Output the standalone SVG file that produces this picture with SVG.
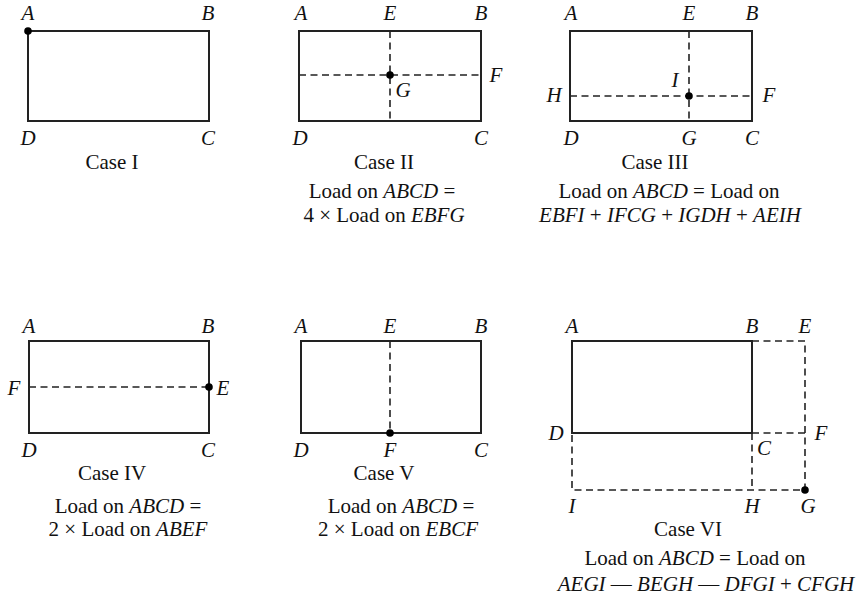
<svg xmlns="http://www.w3.org/2000/svg" width="860" height="596" viewBox="0 0 860 596">
<style>
text{font-family:"Liberation Serif","Times New Roman",serif;font-size:21px;fill:#111;text-anchor:middle}
.l{font-style:italic}
.i{font-style:italic}
.s{fill:none;stroke:#222;stroke-width:2}
.d{fill:none;stroke:#222;stroke-width:1.6;stroke-dasharray:7 4.5}
.p{fill:#000}
</style>
<rect width="860" height="596" fill="#fff"/>
<g id="case1">
<rect class="s" x="28" y="31" width="181" height="90"/>
<circle class="p" cx="28" cy="31" r="3.8"/>
<text class="l" x="28" y="20">A</text><text class="l" x="208" y="20">B</text>
<text class="l" x="28" y="145">D</text><text class="l" x="208" y="145">C</text>
<text x="112" y="169">Case I</text>
</g>
<g id="case2">
<line class="d" x1="390" y1="31" x2="390" y2="121"/>
<line class="d" x1="299" y1="75" x2="481" y2="75"/>
<rect class="s" x="299" y="31" width="182" height="90"/>
<circle class="p" cx="390" cy="75" r="3.8"/>
<text class="l" x="301" y="20">A</text><text class="l" x="390" y="20">E</text><text class="l" x="481" y="20">B</text>
<text class="l" x="496" y="82">F</text><text class="l" x="403" y="97">G</text>
<text class="l" x="300" y="145">D</text><text class="l" x="481" y="145">C</text>
<text x="384" y="169">Case II</text>
<text x="382" y="198">Load on <tspan class="i">ABCD</tspan> =</text>
<text x="384" y="222">4 × Load on <tspan class="i">EBFG</tspan></text>
</g>
<g id="case3">
<line class="d" x1="689" y1="31" x2="689" y2="121"/>
<line class="d" x1="570" y1="96" x2="752" y2="96"/>
<rect class="s" x="570" y="31" width="182" height="90"/>
<circle class="p" cx="689" cy="96" r="3.8"/>
<text class="l" x="571" y="20">A</text><text class="l" x="689" y="20">E</text><text class="l" x="752" y="20">B</text>
<text class="l" x="554" y="102">H</text><text class="l" x="675" y="87">I</text><text class="l" x="769" y="102">F</text>
<text class="l" x="571" y="145">D</text><text class="l" x="689" y="145">G</text><text class="l" x="752" y="145">C</text>
<text x="655" y="169">Case III</text>
<text x="669" y="198">Load on <tspan class="i">ABCD</tspan> = Load on</text>
<text x="670" y="222"><tspan class="i">EBFI</tspan> + <tspan class="i">IFCG</tspan> + <tspan class="i">IGDH</tspan> + <tspan class="i">AEIH</tspan></text>
</g>
<g id="case4">
<line class="d" x1="29" y1="387" x2="209" y2="387"/>
<rect class="s" x="29" y="341" width="180" height="92"/>
<circle class="p" cx="209" cy="387" r="3.8"/>
<text class="l" x="29" y="333">A</text><text class="l" x="208" y="333">B</text>
<text class="l" x="14" y="395">F</text><text class="l" x="223" y="395">E</text>
<text class="l" x="29" y="457">D</text><text class="l" x="208" y="457">C</text>
<text x="112" y="480">Case IV</text>
<text x="128" y="513">Load on <tspan class="i">ABCD</tspan> =</text>
<text x="128" y="536">2 × Load on <tspan class="i">ABEF</tspan></text>
</g>
<g id="case5">
<line class="d" x1="390" y1="341" x2="390" y2="433"/>
<rect class="s" x="301" y="341" width="180" height="92"/>
<circle class="p" cx="390" cy="433" r="3.8"/>
<text class="l" x="301" y="333">A</text><text class="l" x="390" y="333">E</text><text class="l" x="481" y="333">B</text>
<text class="l" x="301" y="457">D</text><text class="l" x="390" y="457">F</text><text class="l" x="481" y="457">C</text>
<text x="384" y="480">Case V</text>
<text x="401" y="513">Load on <tspan class="i">ABCD</tspan> =</text>
<text x="398" y="536">2 × Load on <tspan class="i">EBCF</tspan></text>
</g>
<g id="case6">
<polyline class="d" points="752,341 805,341 805,490 572,490 572,433"/>
<line class="d" x1="752" y1="433" x2="805" y2="433"/>
<line class="d" x1="752" y1="433" x2="752" y2="490"/>
<rect class="s" x="572" y="341" width="180" height="92"/>
<circle class="p" cx="805" cy="490" r="3.8"/>
<text class="l" x="572" y="333">A</text><text class="l" x="752" y="333">B</text><text class="l" x="805" y="333">E</text>
<text class="l" x="556" y="440">D</text><text class="l" x="821" y="440">F</text><text class="l" x="764" y="455">C</text>
<text class="l" x="572" y="513">I</text><text class="l" x="752" y="513">H</text><text class="l" x="808" y="513">G</text>
<text x="688" y="536">Case VI</text>
<text x="695" y="565">Load on <tspan class="i">ABCD</tspan> = Load on</text>
<text x="706" y="591"><tspan class="i">AEGI</tspan> — <tspan class="i">BEGH</tspan> — <tspan class="i">DFGI</tspan> + <tspan class="i">CFGH</tspan></text>
</g>
</svg>
